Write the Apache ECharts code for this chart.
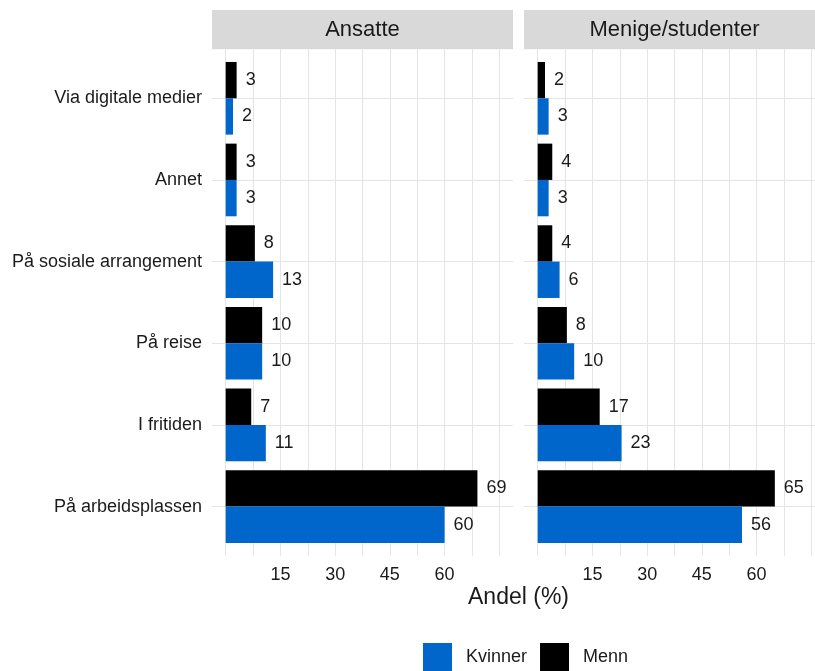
<!DOCTYPE html>
<html>
<head>
<meta charset="utf-8">
<script src="https://cdn.jsdelivr.net/npm/echarts@6/dist/echarts.min.js"></script>
<style>
  html, body { margin: 0; padding: 0; background: #fff; }
  #chart { width: 815px; height: 671px; }
</style>
</head>
<body>
<div id="chart"></div>
<script>
// data
const categories = ['Via digitale medier', 'Annet', 'På sosiale arrangement', 'På reise', 'I fritiden', 'På arbeidsplassen'];
const panels = ['Ansatte', 'Menige/studenter'];
const ansatteMenn = [3, 3, 8, 10, 7, 69];
const ansatteKvinner = [2, 3, 13, 10, 11, 60];
const menigeMenn = [2, 4, 4, 8, 17, 65];
const menigeKvinner = [3, 3, 6, 10, 23, 56];
const xTicks = [15, 30, 45, 60];

const FONT = 'Liberation Sans, Arial, sans-serif';
const TEXT = '#1a1a1a';
const GRID_COL = '#e4e4e4';
const BLUE = '#0066cc';
const NONE = 'rgba(0,0,0,0)';

const panelLeft = [212, 524];
const panelW = 301;
const panelTop = 49.3;
const panelH = 506.3;
const step = panelH / 6.2;

const chart = echarts.init(document.getElementById('chart'));

// background grids (0,1) carry the gridlines, bar grids (2,3) carry the bars
const grids = [];
panelLeft.forEach(l => grids.push({ left: l, top: panelTop, width: panelW, height: panelH, outerBoundsMode: 'none' }));
panelLeft.forEach(l => grids.push({ left: l, top: panelTop + 0.1 * step, width: panelW, height: 6 * step, outerBoundsMode: 'none' }));

const xAxes = [];
const yAxes = [];
[0, 1].forEach(i => {
  xAxes.push({
    type: 'value', gridIndex: i, min: -3.75, max: 78.75, interval: 3.75,
    axisLine: { show: false }, axisTick: { show: false },
    splitLine: { show: true, lineStyle: { color: [NONE, GRID_COL], width: 1 } },
    axisLabel: {
      show: true, margin: 10, fontSize: 18, color: TEXT, fontFamily: FONT,
      formatter: v => { const r = Math.round(v * 100) / 100; return xTicks.includes(r) ? String(r) : ''; }
    }
  });
  yAxes.push({
    type: 'value', gridIndex: i, min: 0, max: 62, interval: 2, inverse: true,
    axisLine: { show: false }, axisTick: { show: false }, axisLabel: { show: false },
    splitLine: { show: true, lineStyle: { color: [NONE, NONE, NONE, GRID_COL, NONE], width: 1 } }
  });
});
[2, 3].forEach(i => {
  xAxes.push({ type: 'value', gridIndex: i, min: -3.75, max: 78.75, show: false });
  yAxes.push({
    type: 'category', gridIndex: i, data: categories, inverse: true,
    axisLine: { show: false }, axisTick: { show: false }, splitLine: { show: false },
    axisLabel: { show: i === 2, margin: 10, fontSize: 18, color: TEXT, fontFamily: FONT }
  });
});

function barSeries(name, data, color, idx) {
  return {
    name: name, type: 'bar', xAxisIndex: idx, yAxisIndex: idx, data: data,
    barGap: '0%', barCategoryGap: '11%',
    itemStyle: { color: color },
    label: { show: true, position: 'right', distance: 9, fontSize: 18, color: TEXT, fontFamily: FONT },
    emphasis: { disabled: true }
  };
}

const graphic = [];
panels.forEach((p, i) => {
  graphic.push({
    type: 'rect', left: panelLeft[i], top: 10,
    shape: { width: panelW, height: panelTop - 10 },
    style: { fill: '#d9d9d9' }
  });
  graphic.push({
    type: 'text', x: panelLeft[i] + panelW / 2, y: 30,
    style: { text: p, fill: TEXT, font: '22px ' + FONT, textAlign: 'center', textVerticalAlign: 'middle' }
  });
});
graphic.push({
  type: 'text', x: 518.5, y: 598,
  style: { text: 'Andel (%)', fill: TEXT, font: '23px ' + FONT, textAlign: 'center', textVerticalAlign: 'middle' }
});

chart.setOption({
  animation: false,
  backgroundColor: '#fff',
  grid: grids,
  xAxis: xAxes,
  yAxis: yAxes,
  legend: {
    data: ['Kvinner', 'Menn'], left: 418, top: 638,
    itemWidth: 29, itemHeight: 29, itemGap: 13, icon: 'rect',
    textStyle: { fontSize: 18, color: TEXT, fontFamily: FONT, padding: [0, 0, 0, 9] },
    selectedMode: false
  },
  graphic: graphic,
  series: [
    barSeries('Menn', ansatteMenn, '#000000', 2),
    barSeries('Kvinner', ansatteKvinner, BLUE, 2),
    barSeries('Menn', menigeMenn, '#000000', 3),
    barSeries('Kvinner', menigeKvinner, BLUE, 3)
  ]
});
</script>
</body>
</html>
